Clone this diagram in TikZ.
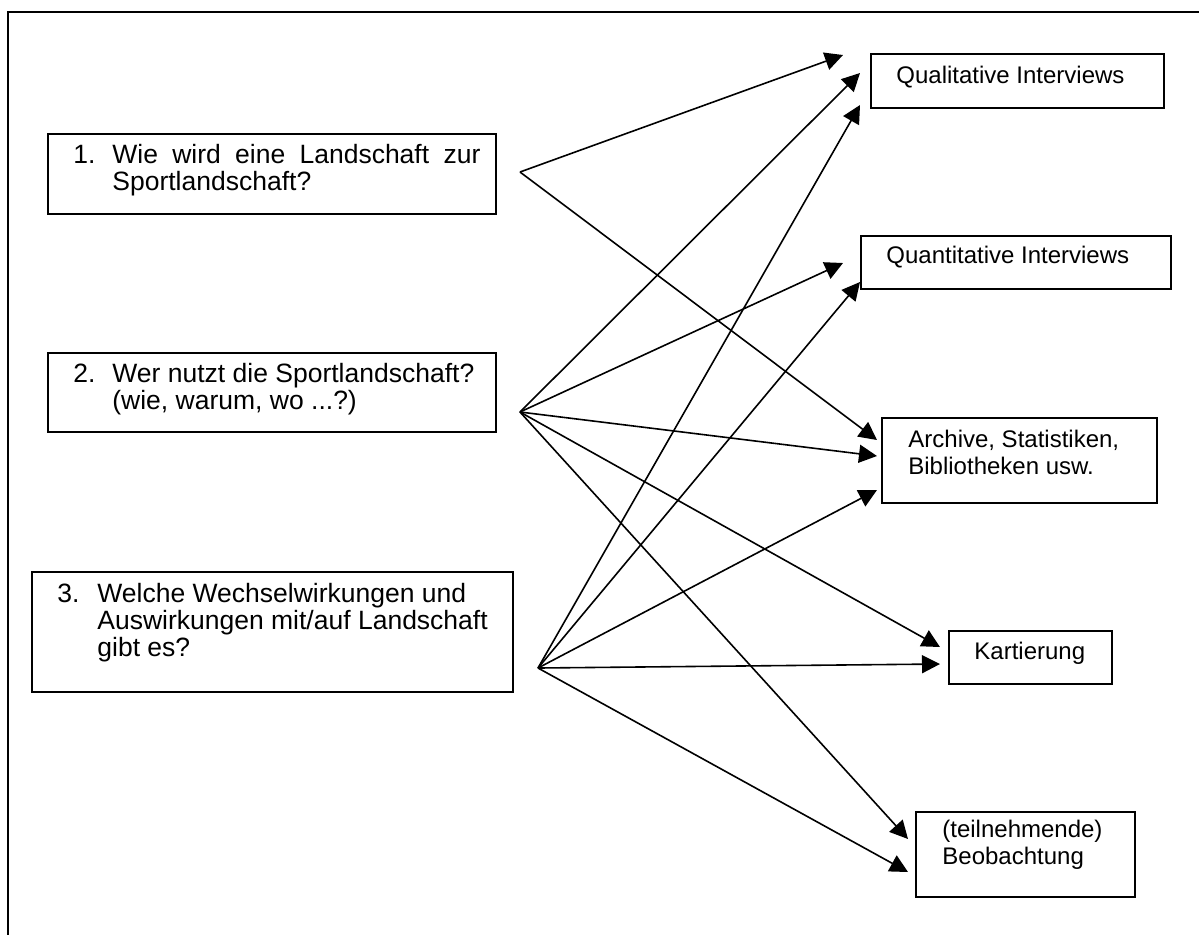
\documentclass[tikz,border=0pt]{standalone}
\usepackage{fontspec}
\setmainfont{Liberation Sans}
\usetikzlibrary{arrows.meta,fit}

\begin{document}
\begin{tikzpicture}[
  x=0.5pt, y=-0.5pt,
  every node/.style={font=\fontsize{12}{13.6}\selectfont},
  kasten/.style={draw, line width=0.8pt, inner sep=0pt},
  txt/.style={inner sep=0pt, anchor=base west},
  frage/.style={txt, font=\fontsize{13.25}{13.6}\selectfont},
  pfeil/.style={-{Triangle[length=9pt, width=9pt]}, line width=0.8pt},
]
\useasboundingbox (0,0) rectangle (1199,934);

%% outer frame (runs off the page at the right and bottom)
\draw[line width=0.8pt] (8,960) |- (1210,12);

%% -- research questions (left) --------------------------------------------
\node[kasten, fit={(48,134) (496,214)}] (frage1) {};
\node[frage] (frage1text) at (73,163)
  {\makebox[19.5pt][l]{1.}\parbox[t]{184pt}{Wie wird eine Landschaft zur\linebreak Sportlandschaft?}};

\node[kasten, fit={(48,353) (496,432)}] (frage2) {};
\node[frage] (frage2text) at (73,382)
  {\makebox[19.5pt][l]{2.}\parbox[t]{200pt}{Wer nutzt die Sportlandschaft?\\(wie, warum, wo ...?)}};

\node[kasten, fit={(32,572) (513,692)}] (frage3) {};
\node[frage] (frage3text) at (57,602)
  {\makebox[20pt][l]{3.}\parbox[t]{210pt}{Welche Wechselwirkungen und\\Auswirkungen mit/auf Landschaft\\gibt es?}};

%% -- methods (right) ------------------------------------------------------
\node[kasten, fit={(871,54) (1164,108)}] (qual) {};
\node[txt] (qualtext) at (896,83) {Qualitative Interviews};

\node[kasten, fit={(861,236) (1171,289)}] (quant) {};
\node[txt] (quanttext) at (886,263) {Quantitative Interviews};

\node[kasten, fit={(882,418) (1157,503)}] (archiv) {};
\node[txt] (archivtext) at (908,447)
  {\parbox[t]{120pt}{Archive, Statistiken,\\Bibliotheken usw.}};

\node[kasten, fit={(949,631) (1112,684)}] (kart) {};
\node[txt] (karttext) at (974,659) {Kartierung};

\node[kasten, fit={(916,812) (1135,897)}] (beob) {};
\node[txt] (beobtext) at (942,837)
  {\parbox[t]{100pt}{(teilnehmende)\\Beobachtung}};

%% -- arrow start and end points -------------------------------------------
\coordinate (s1) at (520,172);
\coordinate (s2) at (520,412);
\coordinate (s3) at (538,668);

\coordinate (qual1) at (843,55);
\coordinate (qual2) at (860,73);
\coordinate (qual3) at (860,105);
\coordinate (quant1) at (843,263);
\coordinate (quant2) at (860,282);
\coordinate (archiv1) at (877,440);
\coordinate (archiv2) at (877,456);
\coordinate (archiv3) at (877,490);
\coordinate (kart1) at (940,647);
\coordinate (kart2) at (940,664);
\coordinate (beob1) at (908,839);
\coordinate (beob2) at (908,872);

%% -- arrows ---------------------------------------------------------------
\foreach \von/\nach in {s1/qual1, s1/archiv1,
    s2/qual2, s2/quant1, s2/archiv2, s2/kart1, s2/beob1,
    s3/qual3, s3/quant2, s3/archiv3, s3/kart2, s3/beob2} {
  \draw[pfeil] (\von) -- (\nach);
}

\end{tikzpicture}
\end{document}
